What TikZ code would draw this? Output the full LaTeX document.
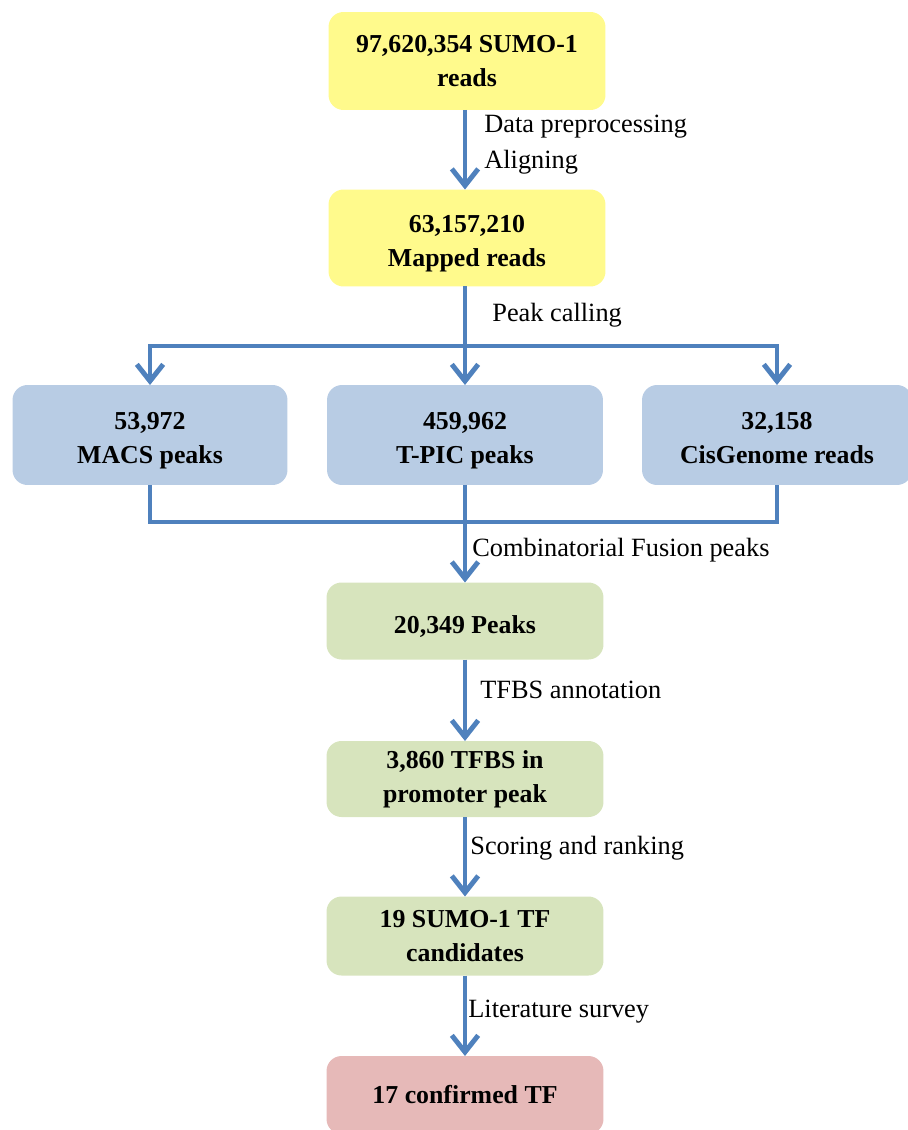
\documentclass[tikz,border=0pt]{standalone}
\usepackage{fontspec}
\setmainfont{Liberation Serif}
\usetikzlibrary{arrows.meta}
\usetikzlibrary{positioning}
\definecolor{arrowblue}{RGB}{79,129,189}
\definecolor{readyellow}{RGB}{255,250,140}
\definecolor{peakblue}{RGB}{184,204,228}
\definecolor{stepgreen}{RGB}{215,228,189}
\definecolor{finalred}{RGB}{230,185,184}

\newcommand{\lowtext}{\rule{0pt}{16pt}}

\tikzset{
  box/.style={rounded corners=0.3cm, minimum width=5.54cm, minimum height=1.54cm,
    align=center, inner sep=0pt, outer sep=0pt, font=\bfseries\fontsize{14.7}{19.5}\selectfont},
  flow/.style={draw=arrowblue, line width=2.8pt, -{Straight Barb[length=9.5pt,width=15pt]}},
  link/.style={draw=arrowblue, line width=2.8pt},
  steplabel/.style={anchor=west, inner sep=0pt, font=\fontsize{15}{18}\selectfont}
}

\begin{document}
\begin{tikzpicture}[x=0.02cm,y=-0.02cm]
      \useasboundingbox (0,0) rectangle (908,1130);
      % boxes
      \node[box,fill=readyellow,minimum height=1.96cm] (reads) at (467,61) {97,620,354 SUMO-1\\reads};
      \node[box,fill=readyellow,minimum height=1.94cm] (mapped) at (467,238) {\lowtext 63,157,210\\Mapped reads};
      \node[box,fill=peakblue,minimum height=2cm,minimum width=5.5cm] (macs) at (150,435) {\lowtext 53,972\\MACS peaks};
      \node[box,fill=peakblue,minimum height=2cm,minimum width=5.52cm] (tpic) at (465,435) {\lowtext 459,962\\T-PIC peaks};
      \node[box,fill=peakblue,minimum height=2cm,minimum width=5.4cm] (cisg) at (777,435) {\lowtext 32,158\\CisGenome reads\vphantom{p}};
      \node[box,fill=stepgreen] (fused) at (465,621) {\rule{0pt}{17pt}20,349 Peaks};
      \node[box,fill=stepgreen,minimum height=1.52cm] (tfbs) at (465,779) {3,860 TFBS in\\promoter peak};
      \node[box,fill=stepgreen,minimum height=1.58cm] (cand) at (465,936) {19 SUMO-1 TF\\candidates};
      \node[box,fill=finalred,minimum height=1.56cm] (conf) at (465,1095) {17 confirmed TF};
      \coordinate (split) at (465,346);
      \coordinate (join) at (465,522);
      % arrows
      \draw[flow] (reads.south -| split) -- (mapped.north -| split);
      \draw[link] (mapped.south -| split) -- (split);
      \draw[flow] (split) -- (tpic.north);
      \draw[flow] (split) -| (macs.north);
      \draw[flow] (split) -| (cisg.north);
      \draw[link] (macs.south) |- (join) -| (cisg.south);
      \draw[flow] (tpic.south) -- (fused.north);
      \draw[flow] (fused.south) -- (tfbs.north);
      \draw[flow] (tfbs.south) -- (cand.north);
      \draw[flow] (cand.south) -- (conf.north);
      % labels
      \node[steplabel] (l1) at (484,127) {Data preprocessing};
      \node[steplabel] (l2) at (484,162) {Aligning};
      \node[steplabel] (l3) at (492,315) {Peak calling};
      \node[steplabel] (l4) at (472,550) {Combinatorial Fusion peaks};
      \node[steplabel] (l5) at (480,690) {TFBS annotation};
      \node[steplabel] (l6) at (470,848) {Scoring and ranking};
      \node[steplabel] (l7) at (468,1012) {Literature survey};
    \end{tikzpicture}
\end{document}
